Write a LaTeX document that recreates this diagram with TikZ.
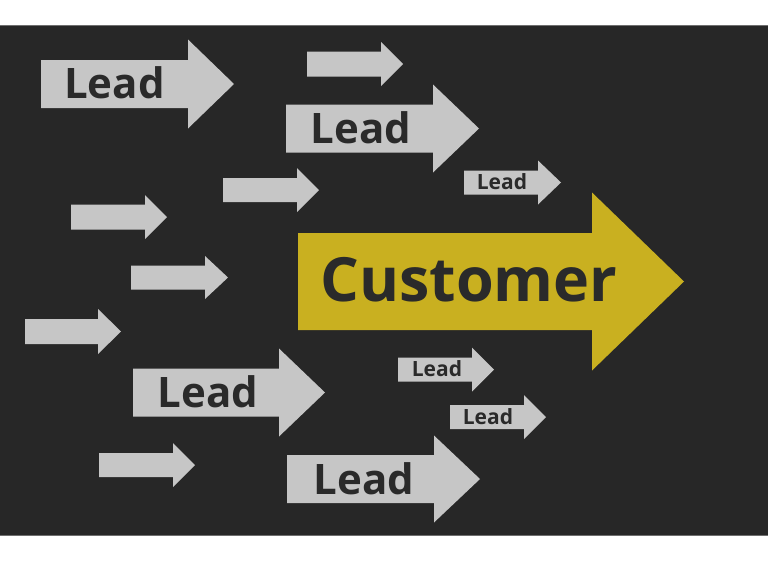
\documentclass[tikz,border=0pt]{standalone}
\usepackage{fontspec}
\setmainfont{Open Sans}
\begin{document}
\begin{tikzpicture}[x=1pt,y=-1pt,
  chalk/.style={fill=chalkgrey},
  yellowchalk/.style={fill=chalkyellow},
  bigtext/.style={font=\bfseries\fontsize{42}{42}\selectfont, text=inkdark, inner sep=0pt},
  smalltext/.style={font=\bfseries\fontsize{21}{21}\selectfont, text=inkdark, inner sep=0pt},
  hugetext/.style={font=\bfseries\fontsize{61}{61}\selectfont, text=inkdark, inner sep=0pt}]
\definecolor{board}{HTML}{272727}
\definecolor{boardedge}{HTML}{6E6E6E}
\definecolor{chalkgrey}{HTML}{C6C6C6}
\definecolor{chalkyellow}{HTML}{C9B020}
\definecolor{inkdark}{HTML}{2A2A2A}
% #1 x0, #2 head base x, #3 tip x, #4 centre y, #5 body half height, #6 head half height, #7 style
\newcommand\chalkarrow[7]{%
  \path[#7] (#1,#4-#5) -- (#2,#4-#5) -- (#2,#4-#6) -- (#3,#4) -- (#2,#4+#6)
    -- (#2,#4+#5) -- (#1,#4+#5) -- cycle;}
\useasboundingbox (0,0) rectangle (768,584);
\fill[white] (0,0) rectangle (768,584);
\fill[board] (0,25) rectangle (768,536);
\draw[boardedge, line width=1pt] (0,25.5) -- (768,25.5);
\draw[boardedge, line width=1pt] (0,535.5) -- (768,535.5);
% grey arrows
\chalkarrow{41}{188}{234}{84}{24}{44.5}{chalk}
\chalkarrow{307}{381}{403}{64}{12.5}{22}{chalk}
\chalkarrow{286}{433}{479}{128.5}{24}{44}{chalk}
\chalkarrow{464}{538}{561}{182.5}{12}{22}{chalk}
\chalkarrow{223}{297}{319}{190}{12}{22}{chalk}
\chalkarrow{71}{145}{167}{217}{12.5}{22}{chalk}
\chalkarrow{131}{205}{228}{277.5}{12}{21.5}{chalk}
\chalkarrow{25}{98}{121}{331.5}{12.5}{22.5}{chalk}
\chalkarrow{133}{279}{325}{392.5}{24}{44}{chalk}
\chalkarrow{99}{173}{195}{465}{12}{22}{chalk}
\chalkarrow{287}{434}{480}{479}{24}{43.5}{chalk}
\chalkarrow{398}{472}{494}{369.5}{12}{22}{chalk}
\chalkarrow{450}{524}{546}{417}{12}{22}{chalk}
% customer arrow
\chalkarrow{298}{592}{684}{281.5}{48.5}{89}{yellowchalk}
% labels
\node[bigtext] (l1) at (114.5,83) {Lead};
\node[bigtext] (l3) at (361,128) {Lead};
\node[smalltext] (l4) at (502,182) {Lead};
\node[bigtext] (l9) at (208,392) {Lead};
\node[bigtext] (l11) at (364,479) {Lead};
\node[smalltext] (l12) at (437,369) {Lead};
\node[smalltext] (l13) at (488,417) {Lead};
\node[hugetext] (cust) at (469,280) {Customer};
\end{tikzpicture}
\end{document}
